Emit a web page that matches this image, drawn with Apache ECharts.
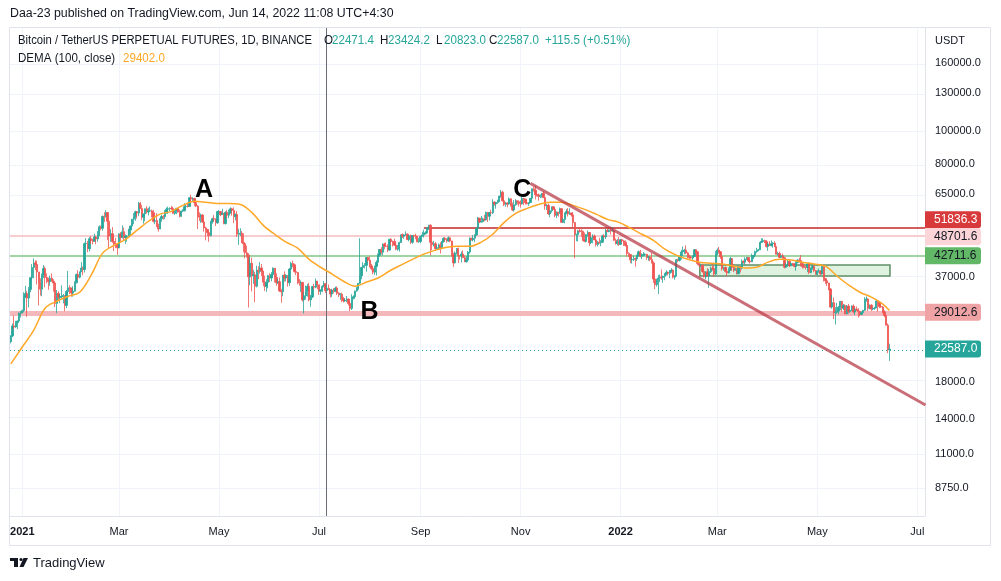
<!DOCTYPE html>
<html><head><meta charset="utf-8">
<script src="https://cdn.jsdelivr.net/npm/echarts@6/dist/echarts.min.js"></script>
<style>html,body{margin:0;padding:0;background:#fff}#c{width:1001px;height:581px}</style>
</head><body><div id="c"></div>
<script>
// ---------------- DATA ----------------
const startDate = '2020-12-25';
const firstOpen = 23730;
const close = [
24700,26440,26250,27040,27370,28880,28950,
29370,32200,33000,31990,33950,36770,39400,40670,40240,38240,35540,34010,37390,39160,36830,36180,35790,36630,35890,35470,30850,33000,32100,32280,32370,32570,30430,33470,34320,34270,33110,
33540,35510,37620,36920,38290,39270,38900,46400,46500,44850,48000,47400,47200,48600,47930,49150,52120,51550,55900,55880,57410,54100,48890,49680,47070,46280,46100,45140,
49590,48440,50350,48370,48750,48880,50970,52380,54880,55850,57770,57220,61190,59000,55630,56900,58910,57650,58030,58100,57350,54080,54340,52300,51300,55050,55880,55800,57630,58770,58920,
59100,59000,57100,58200,59100,57600,56000,58060,58100,59770,59980,59850,63580,62960,63200,61400,60000,56150,55630,56470,53800,51700,51150,50050,49000,54000,55040,54880,53580,57800,
57830,56600,57200,53240,57500,56400,57350,58900,58250,55850,56700,49500,49690,49880,46750,46400,43600,42900,37000,40600,37300,37500,34700,38700,38400,39300,38500,35680,34620,35650,37300,
36700,37580,39250,36850,35550,35800,33580,33400,37390,36690,37340,35550,39020,40520,40160,38340,38100,35820,35480,35600,31600,32500,33680,34660,31600,32240,34650,34480,35900,35040,
33510,33800,34670,35290,33690,34220,33860,32880,33800,33510,34260,33090,32730,32820,31870,31380,31520,31780,30840,29790,32140,32290,33590,34290,35410,37270,39450,40010,40020,42210,41460,
39850,39150,38200,39730,40870,42830,44600,43800,46280,45600,45550,44430,47830,47100,47020,45950,44700,44800,46770,49340,48870,49280,49530,47710,48990,46850,49070,48900,48800,46990,47130,
48830,49270,49940,49960,51770,52660,46860,46080,46370,44850,45170,46030,44950,47110,48140,47760,47300,48310,47250,42990,40700,43570,44900,42840,42700,43210,42170,41040,41530,43820,
48140,47660,48200,49230,51480,55300,53800,53950,54950,54660,57470,56000,57370,57350,61670,60880,61530,62040,64280,66000,62210,60690,61300,60850,63080,60330,58450,60590,62250,61870,61300,
61000,63230,62940,61400,61000,61500,63300,67530,66930,64880,64800,64150,64400,65500,63600,60050,60350,56900,58100,59700,58700,56300,57550,57150,58950,53700,54750,57250,57800,56950,
57200,56500,53600,49400,49400,50600,50580,50480,47570,47150,49350,50100,46720,48350,48880,47630,46150,46840,46680,46900,48950,48600,50800,50400,50800,50700,50700,47540,46450,47120,46200,
47700,47300,46430,45830,43430,43080,41550,41680,41850,41820,42740,43900,42580,43080,43100,43180,42250,42370,41660,40680,36450,35070,36280,36680,36960,36830,37170,37710,38170,37900,38480,
38740,36900,37300,41570,41400,42400,43850,44050,44400,43550,42400,42200,42080,42550,44560,43900,40550,40000,40100,38380,37020,38270,37250,38340,39230,39120,37700,43180,
44420,43890,42460,39130,39400,38410,37990,38730,41940,39420,38730,38800,37780,39670,39280,41100,40900,41770,42200,41250,41000,42370,42860,43960,44330,44500,46820,47120,47430,47060,45520,
46280,45800,46400,46600,45500,43150,43420,42250,42740,42150,39500,40070,41140,39930,40550,40380,39680,40800,41480,41350,40470,39700,39450,39440,40420,38110,39240,39740,38590,37630,
38470,38520,37720,39690,36550,36000,35470,34040,30080,31010,28970,29020,29270,30050,31300,29850,30400,28700,30300,29180,29430,30280,29090,29640,29510,29180,28590,28990,29440,31710,31790,
29800,30450,29680,29860,29900,31370,31130,30200,30100,29100,28400,26580,22471.5,22587.0
];
const high = [
24790,26870,28420,27390,27400,28990,29300,
29600,33300,34780,33600,34500,36940,40370,41950,41380,41350,38260,36630,37850,40100,39700,37900,36800,37300,37850,36400,35600,33800,33500,32900,34900,32900,32600,33800,38530,34900,34300,
34700,35900,37800,38700,38300,40900,39700,46800,48200,47300,48600,48900,48000,49700,49000,50600,52600,52500,56300,57500,58350,57500,54200,51300,52000,48400,48300,46600,
49800,50200,52600,51800,49400,49200,51450,52400,54900,57200,58100,58000,61800,61700,60600,56950,58980,60000,59400,59900,58600,58400,55800,57200,53200,55100,56600,56500,58400,59400,59800,
59500,60000,59800,58500,59200,59300,58600,58100,58800,61200,60700,61200,63770,64850,63800,63500,62500,60400,57500,57000,56800,55500,52100,51200,50500,54300,55450,56400,55200,58000,
58450,57950,58950,57200,57900,58350,58650,59500,59300,59500,57000,58000,51400,51550,50600,49800,46600,45800,43500,42450,42200,38800,38250,39900,39800,40900,40400,38200,37300,36400,37500,
37900,38200,39480,39300,37900,36500,36800,34000,37500,38400,37700,37450,39300,41000,41330,40500,39560,38200,36450,36100,35750,33300,34860,35270,35500,32700,34700,35300,36600,36000,
35040,33900,34950,35950,35300,35050,35100,33930,34100,34260,34600,34660,33320,33100,33200,32250,31950,32440,31900,31050,32850,32600,33650,34500,35400,48168,39550,40900,40640,42300,42400,
42600,40450,39800,39950,41400,43400,44700,45300,46450,46700,46800,46200,47900,48150,47400,48050,47160,46000,47050,49350,49800,49500,50500,49850,49230,49350,49150,49300,49650,48900,48250,
49000,50350,51050,50560,51900,52800,52950,47350,47350,47000,45980,46450,46880,47250,48460,48500,48150,48800,48350,47350,43640,44000,45000,45200,42950,43950,44350,42780,42600,44100,
48500,48350,49250,49500,51900,55750,55300,56100,55450,56500,57800,57650,57700,58500,62900,62000,61700,62650,64450,67000,66650,63700,61750,61500,63700,63290,61450,62500,62950,62350,62400,
62400,64300,63500,63100,62600,61600,63300,67750,68500,69000,65600,65450,65000,65500,66300,63600,60800,60950,58350,59850,60000,59300,57850,57700,59400,59150,55300,57400,58850,59200,
59100,57400,57600,53850,49700,51000,51950,51200,50800,50100,49500,50800,50200,48700,49500,49400,48000,47300,48300,47550,49300,49550,51350,51800,51150,51200,52050,50700,48100,47900,48550,
47900,47950,47550,47500,47050,43750,43150,42300,42800,42250,43100,44300,44450,43450,43800,43450,43200,42700,42580,43500,41100,36850,36550,37500,37550,38900,37250,38000,38700,38350,38750,
39250,38850,37400,41750,41900,42650,44500,45500,44800,45850,43900,43050,42750,42850,44750,44550,44200,40950,40500,40150,39500,38450,39250,39000,39700,40300,39850,44200,
44950,45400,44100,42500,39650,39700,39500,39400,42400,41950,40250,39450,39300,39950,39850,41700,41450,42300,42400,42300,41500,43350,42900,44250,45100,44800,46900,48200,48100,47700,47600,
46700,47200,47450,46850,47200,45500,43900,43950,42800,43400,42400,40650,41550,41450,40850,40700,40600,41100,41750,42150,42950,40800,39950,39900,40600,40800,39450,40400,39950,38800,
38650,39150,38650,39950,39800,36650,36100,35500,34250,32650,32150,30050,30950,30300,31400,31300,30750,30650,30500,30750,29600,30450,30650,29850,30200,29850,29350,29200,29500,32200,32350,
31950,30650,30700,29950,30150,31750,31550,31300,30700,30350,29450,28550,26900,23424.2
];
const low = [
23460,24500,25860,26100,25880,27320,28000,
28800,29000,32000,28130,30000,33300,36300,36600,38720,35110,30420,32530,32380,36700,34400,35400,33850,34800,35850,33400,30070,28850,31400,30900,31900,30840,29240,29860,31970,32900,32300,
32300,33400,35400,36200,36600,38200,37400,38100,45000,43800,44000,46300,46200,47000,46200,47000,48900,50900,50700,53800,55500,47600,44900,47000,46700,44150,45000,43000,
45000,47000,48100,47500,46300,47070,48900,49300,51800,53000,54300,55100,56000,58900,54600,53200,54100,57000,56300,57800,55500,53650,53000,52000,50400,51300,53900,54700,54900,57000,56900,
57950,58400,56900,56500,56800,57400,55500,55800,57600,57900,59300,59400,59800,61300,62000,60000,59600,51300,54200,53500,53600,50400,47500,48800,47000,48800,53200,53900,52400,53100,
57000,56000,56450,53000,52900,55200,55300,56900,56200,53400,54400,48600,46000,48900,46600,43800,42000,42200,30000,34900,33500,35250,31100,34400,36400,37800,37200,34700,33600,33400,34200,
35700,35900,37200,35600,34800,35250,33400,31000,32400,35800,35900,34600,34760,38750,39500,38100,37400,35130,34800,33350,31250,28800,31700,32300,31250,30150,32000,33900,34230,34000,
32700,32700,33300,34400,33150,33550,33800,32100,32260,33050,33300,32660,32200,31600,31130,31030,31170,31100,30400,29280,29480,31710,31780,33400,33880,35200,36400,38800,39200,38300,41000,
39420,38700,37650,37500,37350,39850,42450,43100,42800,44700,45350,43800,44200,45950,45500,45700,44400,44200,43950,46650,48300,48000,49050,47600,47150,46300,46400,48400,47850,46850,46700,
46550,48650,48400,49400,49500,50950,42800,44400,45500,44200,44750,44750,43400,44700,46700,47050,46750,47050,46850,42500,39600,40550,43100,40700,41680,40800,42100,40900,40750,41400,
43300,47400,47150,46900,49050,50400,53400,53600,53700,54100,54400,53850,54400,56800,56850,60150,58950,60900,61650,63500,62000,60000,59700,59500,60650,59800,58000,57800,60150,60700,59800,
59400,60700,60400,60700,60700,60100,61350,63250,66300,62800,64100,62300,63400,63600,63400,58550,58400,56500,55600,57400,58500,55600,55300,55850,56950,53500,53700,53350,56700,55900,
56500,55850,51700,42000,47200,47100,50050,48650,47300,46900,46800,48650,45700,46300,46550,47550,45500,45550,46400,45600,46650,48450,47900,50400,50200,49450,50450,47300,46100,45900,45700,
46000,46700,45700,45500,42500,42400,40650,40500,41200,39650,41250,42450,42300,41750,42600,42600,41550,41300,41150,40600,35450,34000,34600,32900,35700,36250,35500,36150,37300,37350,36650,
38000,36600,36250,37050,40850,41100,41650,42650,43150,43200,41950,41750,41900,41550,42450,43350,40100,39500,39650,38050,36800,36350,37050,34300,38000,38600,37050,37450,
42850,43350,41850,38600,38600,38100,37150,37850,38650,38550,38200,38650,37600,37600,38100,38900,40500,40150,41500,40900,40500,40900,41750,42550,43600,44050,44400,46650,46950,46550,45200,
44200,45650,45550,45150,45350,43100,42750,42100,42150,41900,39200,39250,39550,39550,39750,40000,39550,38550,40550,40800,39750,39150,39250,38900,38200,37700,37900,38850,38200,37600,
37400,38050,37500,37650,35850,35250,34750,33700,30000,29750,27700,26700,28750,28650,29450,29150,29450,28650,28650,28750,28950,29250,28900,28450,29300,28000,28250,28550,28800,29300,31200,
29300,29600,29300,29450,29500,29850,29200,29850,29950,28850,28100,26550,21950,20823.0
];
// DEMA (100, close) at weekly points
const demaDates = ['2020-12-25','2021-01-01','2021-01-08','2021-01-15','2021-01-22','2021-01-29','2021-02-05','2021-02-12','2021-02-19','2021-02-26',
'2021-03-05','2021-03-12','2021-03-19','2021-03-26','2021-04-02','2021-04-09','2021-04-16','2021-04-23','2021-04-30','2021-05-07','2021-05-14','2021-05-21','2021-05-28',
'2021-06-04','2021-06-11','2021-06-18','2021-06-25','2021-07-02','2021-07-09','2021-07-16','2021-07-23','2021-07-30','2021-08-06','2021-08-13','2021-08-20','2021-08-27',
'2021-09-03','2021-09-10','2021-09-17','2021-09-24','2021-10-01','2021-10-08','2021-10-15','2021-10-22','2021-10-29','2021-11-05','2021-11-12','2021-11-19','2021-11-26',
'2021-12-03','2021-12-10','2021-12-17','2021-12-24','2021-12-31','2022-01-07','2022-01-14','2022-01-21','2022-01-28','2022-02-04','2022-02-11','2022-02-18','2022-02-25',
'2022-03-04','2022-03-11','2022-03-18','2022-03-25','2022-04-01','2022-04-08','2022-04-15','2022-04-22','2022-04-29','2022-05-06','2022-05-13','2022-05-20','2022-05-27',
'2022-06-03','2022-06-10','2022-06-14'];
const demaValues = [20400,22900,25700,29900,31300,32400,33300,37400,43500,45900,
47800,50900,54100,56800,57900,60300,62000,61600,61100,61100,60700,57500,52600,
49500,46900,45000,41700,39500,37700,35900,34700,35700,36700,38500,40100,41700,
43200,44400,45300,45600,45600,46900,49500,53700,57100,59100,60700,61600,61600,
60300,58700,56800,54800,53700,51600,49500,47500,44700,42900,41700,40900,40600,
40400,39800,39300,39500,40900,41700,41500,40900,40400,39800,37200,35000,33300,
32200,30700,29402];
// axis ticks
const yTickValues = [8750, 11000, 14000, 18000, 37000, 65000, 80000, 100000, 130000, 160000];
const xTickDates = ['2021-01-01','2021-03-01','2021-05-01','2021-07-01','2021-09-01','2021-11-01','2022-01-01','2022-03-01','2022-05-01','2022-07-01'];
const xTickText = ['2021','Mar','May','Jul','Sep','Nov','2022','Mar','May','Jul'];
// drawings
const levelValues = [51836.3, 48701.6, 42711.6, 29012.6, 22587.0];
const levelStart = '2021-09-03';
const trendDates = ['2021-11-07', '2022-07-06'];
const trendValues = [70100, 15400];
const zoneDates = ['2022-02-18T08:00:00Z', '2022-06-14T08:00:00Z'];
const zoneValues = [40100, 37200];
const noteLabels = ['A', 'B', 'C'];
const noteDates = ['2021-04-21T20:00:00Z', '2021-07-31T19:00:00Z', '2021-11-02T02:00:00Z'];
const noteValues = [66990, 29090, 66990];
const crossDate = '2021-07-05T14:00:00Z';
// legend texts
const titleText = 'Bitcoin / TetherUS PERPETUAL FUTURES, 1D, BINANCE';
const ohlcKeys = ['O', 'H', 'L', 'C'];
const ohlcValues = ['22471.4', '23424.2', '20823.0', '22587.0'];
const changeText = '+115.5 (+0.51%)';
const demaTitle = 'DEMA (100, close)';
const demaLast = '29402.0';
const headerText = 'Daa-23 published on TradingView.com, Jun 14, 2022 11:08 UTC+4:30';

// ---------------- BUILD ----------------
const L = v => Math.log10(v);
const T = s => new Date(s.length <= 10 ? s + 'T00:00:00Z' : s).getTime();
const DAY = 86400000;
const t0 = T(startDate);
const n = Math.min(close.length, high.length, low.length);
const candles = [];
for (let i = 0; i < n; i++) {
  const o = i === 0 ? firstOpen : close[i - 1];
  const c = close[i];
  const h = Math.max(high[i], o, c), l = Math.min(low[i], o, c);
  candles.push([t0 + i * DAY, L(o), L(c), L(l), L(h)]);
}
const dema = demaDates.map((d, i) => [T(d), L(demaValues[i])]);
const xMin = T('2021-01-01') - 7.5 * DAY;
const xMax = T('2021-01-01') + 550.7 * DAY;
const yMin = 3.85782, yMax = 5.30718;
const FONT = "'Liberation Sans', Arial, sans-serif";
const TXT = '#131722';
const GRIDC = '#f0f3fa';

const chart = echarts.init(document.getElementById('c'), null, {renderer: 'canvas'});
const xTickVals = xTickDates.map(T);
const gridLines = yTickValues.map(v => ({yAxis: L(v)})).concat(xTickVals.map(t => ({xAxis: t})));
const option = {
  animation: false,
  backgroundColor: '#ffffff',
  grid: {left: 10, right: 76, top: 28, bottom: 65, containLabel: false},
  xAxis: {
    type: 'value', min: xMin, max: xMax, scale: true,
    axisLine: {show: true, lineStyle: {color: '#e0e3eb'}},
    axisTick: {show: false},
    splitLine: {show: false},
    axisLabel: {
      customValues: xTickVals, hideOverlap: false, margin: 10,
      color: TXT, fontSize: 11, fontFamily: FONT,
      formatter: v => { let k = -1; xTickVals.forEach((t, j) => { if (Math.abs(t - v) < 1000) k = j; }); const s = k >= 0 ? xTickText[k] : ''; return /^\d{4}$/.test(s) ? '{b|' + s + '}' : s; },
      rich: {b: {fontWeight: 'bold', fontSize: 11, color: TXT, fontFamily: FONT}}
    }
  },
  yAxis: {
    type: 'value', position: 'right', min: yMin, max: yMax, scale: true,
    axisLine: {show: true, lineStyle: {color: '#e0e3eb'}},
    axisTick: {show: false},
    splitLine: {show: false},
    axisLabel: {
      customValues: yTickValues.map(L), margin: 10, color: TXT, fontSize: 11, fontFamily: FONT,
      formatter: v => (Math.round(Math.pow(10, v) * 10) / 10).toFixed(1)
    }
  },
  series: [
    {
      type: 'candlestick', data: candles, barWidth: 1.8, z: 2,
      itemStyle: {color: '#26a69a', color0: '#ef5350', borderColor: '#26a69a', borderColor0: '#ef5350', borderWidth: 0.8},
      markLine: {
        silent: true, symbol: ['none', 'none'], label: {show: false}, z: 1,
        data: [
          {yAxis: L(levelValues[1]), lineStyle: {color: '#f8cdd0', width: 2, type: 'solid'}},
          {yAxis: L(levelValues[2]), lineStyle: {color: '#81c784', width: 1.5, type: 'solid'}},
          {yAxis: L(levelValues[3]), lineStyle: {color: '#f5b8ba', width: 5, type: 'solid'}},
          {yAxis: L(levelValues[4]), lineStyle: {color: '#26a69a', width: 1, type: [1, 3]}},
          [{coord: [T(levelStart), L(levelValues[0])], lineStyle: {color: '#c62828', width: 1.5, type: 'solid'}}, {coord: [xMax, L(levelValues[0])]}],
          {xAxis: T(crossDate), lineStyle: {color: '#6a6d78', width: 1, type: 'solid'}}
        ]
      },
      markArea: {
        silent: true,
        itemStyle: {color: 'rgba(76,175,80,0.18)', borderColor: '#5f8f65', borderWidth: 1.5},
        data: [[{coord: [T(zoneDates[0]), L(zoneValues[0])]}, {coord: [T(zoneDates[1]), L(zoneValues[1])]}]]
      },
      markPoint: {
        silent: true, symbol: 'circle', symbolSize: 1, itemStyle: {color: 'rgba(0,0,0,0)'},
        label: {show: true, position: 'inside', color: '#000', fontSize: 25, fontWeight: 'bold', fontFamily: FONT, formatter: p => p.name},
        data: noteLabels.map((s, i) => ({name: s, coord: [T(noteDates[i]), L(noteValues[i])]}))
      }
    },
    {
      type: 'line', data: dema, smooth: 0.35, showSymbol: false, z: 3,
      lineStyle: {color: '#ffa726', width: 1.5},
      markLine: {silent: true, symbol: ['none', 'none'], label: {show: false}, z: 0, lineStyle: {color: GRIDC, width: 1, type: 'solid'}, data: gridLines}
    },
    {
      type: 'line', data: trendDates.map((d, i) => [T(d), L(trendValues[i])]), showSymbol: false, z: 4,
      lineStyle: {color: 'rgba(180,50,62,0.7)', width: 3}
    }
  ]
};
chart.setOption(option);

// ---------------- overlay texts & price tags ----------------
const txt = (x, y, text, color, size, extra) => Object.assign({type: 'text', x: x, y: y, z: 100, style: {text: text, fill: color, fontSize: size, fontFamily: FONT, verticalAlign: 'middle', textVerticalAlign: 'middle'}}, extra || {});
const SX = 0.965;
const g = [];
g.push({type: 'rect', shape: {x: 9.5, y: 27.5, width: 981, height: 518}, style: {fill: 'none', stroke: '#e0e3eb', lineWidth: 1}, z: 0, silent: true});
g.push(txt(10, 14, headerText, TXT, 12, {scaleX: 1.03}));
g.push(txt(935, 41, 'USDT', TXT, 11));
g.push(txt(18, 41, titleText, TXT, 12, {scaleX: 0.94}));
const ohlcX = [324, 380, 436, 489];
ohlcKeys.forEach((k, i) => {
  g.push(txt(ohlcX[i], 41, k, TXT, 12, {scaleX: SX}));
  g.push(txt(ohlcX[i] + 8, 41, ohlcValues[i], '#26a69a', 12, {scaleX: SX}));
});
g.push(txt(545, 41, changeText, '#26a69a', 12, {scaleX: SX}));
g.push(txt(18, 59, demaTitle, TXT, 12, {scaleX: SX}));
g.push(txt(123, 59, demaLast, '#ffa726', 12, {scaleX: SX}));
// footer logo
g.push({type: 'rect', shape: {x: 10, y: 558, width: 8, height: 3}, style: {fill: TXT}});
g.push({type: 'rect', shape: {x: 14, y: 558, width: 4, height: 9}, style: {fill: TXT}});
g.push({type: 'circle', shape: {cx: 21, cy: 559.5, r: 1.6}, style: {fill: TXT}});
g.push({type: 'polygon', shape: {points: [[23.5, 558], [28, 558], [23.5, 567], [19.5, 567]]}, style: {fill: TXT}});
g.push(txt(33, 563, 'TradingView', TXT, 13));
// price tags
const tagStyles = [
  {bg: '#d8393b', fg: '#ffffff'},
  {bg: '#fdd5d8', fg: TXT},
  {bg: '#62b866', fg: TXT},
  {bg: '#f0a3a5', fg: TXT},
  {bg: '#26a69a', fg: '#ffffff'}
];
const ys = levelValues.map(v => chart.convertToPixel({yAxisIndex: 0}, L(v)));
for (let i = ys.length - 2; i >= 0; i--) { if (ys[i] > ys[i + 1] - 17) ys[i] = ys[i + 1] - 17; }
levelValues.forEach((v, i) => {
  g.push({type: 'rect', shape: {x: 925, y: ys[i] - 8.5, width: 56, height: 17, r: [0, 3, 3, 0]}, style: {fill: tagStyles[i].bg}, z: 100});
  g.push(txt(934, ys[i], v.toFixed(1), tagStyles[i].fg, 12, {z: 101}));
});
chart.setOption({graphic: g});
</script>
</body></html>
